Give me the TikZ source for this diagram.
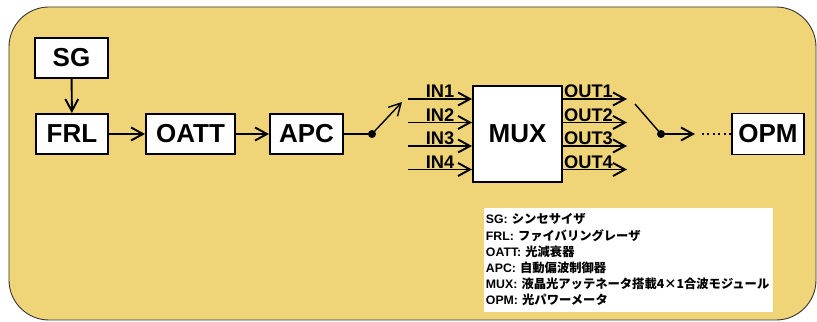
\documentclass[tikz,border=0pt]{standalone}
\usepackage{fontspec}
\setmainfont{Liberation Sans}
\newfontfamily\jpfont{Noto Sans CJK JP Bold}
\usetikzlibrary{arrows.meta}
\definecolor{panel}{RGB}{240,213,120}

\begin{document}
\begin{tikzpicture}[>={Straight Barb[length=2.4mm,width=2.6mm]},line width=1.1pt,
  box/.style={draw,fill=white,font=\fontsize{14.8}{16}\selectfont\bfseries,minimum height=0.8cm,inner sep=0pt},
  port/.style={font=\fontsize{10.4}{11}\selectfont\bfseries,anchor=base,inner sep=0pt}]
\useasboundingbox (0,0) rectangle (16.34,6.44);
\draw[line width=0.5pt,draw=black!80,fill=panel,rounded corners=0.8cm] (0.18,0.04) rectangle (16.32,6.30);
\node[box,minimum width=1.46cm] (sg) at (1.43,5.28) {SG};
\node[box,minimum width=1.44cm] (frl) at (1.44,3.76) {FRL};
\node[box,minimum width=1.78cm] (oatt) at (3.81,3.76) {OATT};
\node[box,minimum width=1.46cm] (apc) at (6.13,3.76) {APC};
\node[box,minimum width=1.78cm,minimum height=1.92cm] (mux) at (10.35,3.76) {MUX};
\node[box,minimum width=1.44cm,minimum height=0.82cm] (opm) at (15.36,3.76) {OPM};
\draw[->] (sg) -- (frl);
\draw[->] (frl) -- (oatt);
\draw[->] (oatt) -- (apc);
\coordinate (d1) at (7.44,3.76);
\coordinate (s1) at (8.04,4.40);
\draw (apc) -- (d1);
\fill (d1) circle (0.08);
\draw[->,line width=0.8pt] (d1) -- (s1);
\foreach \i/\y in {1/4.46,2/3.99,3/3.52,4/3.05}{
  \coordinate (in\i) at (8.16,\y);
  \coordinate (out\i) at (12.54,\y);
  \draw[->] (in\i) -- (in\i -| mux.west);
  \draw[->] (mux.east |- out\i) -- (out\i);
  \node[port] (inl\i) at (8.8,\y+0.02) {IN\i};
  \node[port] (outl\i) at (11.77,\y+0.02) {OUT\i};
}
\coordinate (s2) at (12.70,4.36);
\coordinate (d2) at (13.22,3.76);
\coordinate (a2) at (13.90,3.76);
\coordinate (a3) at (14.04,3.76);
\draw[line width=0.8pt] (s2) -- (d2);
\fill (d2) circle (0.08);
\draw[->] (d2) -- (a2);
\draw[dotted] (a3) -- (opm);
\node[fill=white,anchor=north west,text width=5.70cm,inner xsep=0.04cm,minimum height=1.90cm,align=left,
  font=\fontsize{7}{9.2}\selectfont\bfseries] (legend) at (9.66,2.30)
  {SG: {\jpfont シンセサイザ}\\
   FRL: {\jpfont ファイバリングレーザ}\\
   OATT: {\jpfont 光減衰器}\\
   APC: {\jpfont 自動偏波制御器}\\
   MUX: {\jpfont 液晶光アッテネータ搭載4×1合波モジュール}\\
   OPM: {\jpfont 光パワーメータ}};
\end{tikzpicture}
\end{document}
